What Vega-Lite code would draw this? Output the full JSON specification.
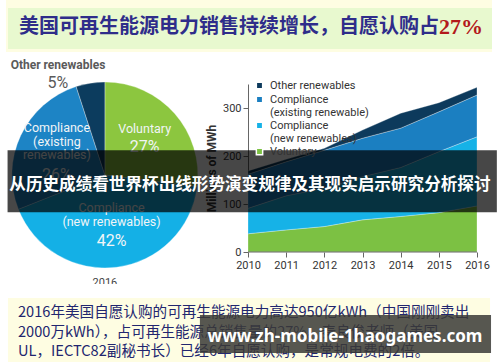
{
  "$schema": "https://vega.github.io/schema/vega-lite/v6.json",
  "background": "#ffffff",
  "padding": {"left": 6, "top": 0, "right": 0, "bottom": 0},
  "bounds": "flush",
  "spacing": 32,
  "config": {"view": {"stroke": null}, "font": "Roboto"},
  "resolve": {"scale": {"color": "independent", "x": "independent", "y": "independent"}},
  "vconcat": [
    {
      "width": 486,
      "height": 52,
      "view": {"fill": "#fefde2", "stroke": null},
      "data": {"values": [
        {"part": "head", "text": "美国可再生能源电力销售持续增长，自愿认购占"},
        {"part": "pct", "text": "27%"}
      ]},
      "layer": [
        {
          "transform": [{"filter": "datum.part === 'head'"}],
          "mark": {"type": "rect", "fill": "#e8f9cf"},
          "encoding": {
            "x": {"datum": 0.0041, "type": "quantitative", "scale": {"domain": [0, 1], "nice": false}, "axis": null},
            "x2": {"datum": 1.0},
            "y": {"datum": 0.154, "type": "quantitative", "scale": {"domain": [0, 1], "nice": false, "reverse": true}, "axis": null},
            "y2": {"datum": 0.942}
          }
        },
        {
          "transform": [{"filter": "datum.part === 'head'"}],
          "mark": {"type": "text", "align": "right", "baseline": "middle", "font": "Noto Sans CJK SC", "fontSize": 20, "fontWeight": "bold", "fill": "#2f2d8a"},
          "encoding": {
            "x": {"datum": 0.891, "type": "quantitative", "scale": {"domain": [0, 1], "nice": false}, "axis": null},
            "y": {"datum": 0.52, "type": "quantitative", "scale": {"domain": [0, 1], "nice": false, "reverse": true}, "axis": null},
            "text": {"field": "text"}
          }
        },
        {
          "transform": [{"filter": "datum.part === 'pct'"}],
          "mark": {"type": "text", "align": "left", "baseline": "middle", "font": "Liberation Serif", "fontSize": 22, "fontWeight": "bold", "fill": "#b3191c"},
          "encoding": {
            "x": {"datum": 0.891, "type": "quantitative", "scale": {"domain": [0, 1], "nice": false}, "axis": null},
            "y": {"datum": 0.52, "type": "quantitative", "scale": {"domain": [0, 1], "nice": false, "reverse": true}, "axis": null},
            "text": {"field": "text"}
          }
        }
      ]
    },
    {
      "width": 491,
      "height": 168,
      "resolve": {"scale": {"color": "independent", "theta": "independent"}},
      "layer": [
        {
          "data": {"name": "pie", "values": [
            {"cat": "Voluntary", "k": 1, "share": 27, "lbl": "Voluntary", "pct": "27%"},
            {"cat": "Compliance (new renewables)", "k": 2, "share": 42, "lbl": "Compliance\n(new renewables)", "pct": "42%"},
            {"cat": "Compliance (existing renewables)", "k": 3, "share": 26, "lbl": "Compliance\n(existing\nrenewables)", "pct": "26%"},
            {"cat": "Other renewables", "k": 4, "share": 5, "lbl": "Other renewables", "pct": "5%"}
          ]},
          "encoding": {
            "theta": {"field": "share", "type": "quantitative", "stack": true},
            "order": {"field": "k", "type": "quantitative"},
            "detail": {"field": "cat", "type": "nominal"},
            "x": {"datum": 2006.25, "type": "quantitative", "scale": {"domain": [2003.659, 2016.524], "nice": false, "zero": false}},
            "y": {"datum": 160.4, "type": "quantitative", "scale": {"domain": [0, 350], "nice": false}}
          },
          "layer": [
            {
              "mark": {"type": "arc", "outerRadius": 93, "stroke": "#ffffff", "strokeWidth": 0.6, "strokeOpacity": 0.5},
              "encoding": {
                "color": {"field": "cat", "type": "nominal", "legend": null,
                  "scale": {"domain": ["Voluntary", "Compliance (new renewables)", "Compliance (existing renewables)", "Other renewables"],
                            "range": ["#8cc63f", "#14b0e6", "#1d84c5", "#0c3c5e"]}}
              }
            },
            {
              "mark": {"type": "text", "radius": 53, "dy": -11, "baseline": "middle", "lineBreak": "\n", "lineHeight": 14, "font": "Liberation Sans Narrow, Roboto", "fontSize": 12.5, "fill": "#f1f5f7"},
              "encoding": {"text": {"condition": {"test": "datum.k === 1", "field": "lbl"}, "value": ""}}
            },
            {
              "mark": {"type": "text", "radius": 53, "dy": 7, "baseline": "middle", "font": "Liberation Sans Narrow, Roboto", "fontSize": 16, "fill": "#f1f5f7"},
              "encoding": {"text": {"condition": {"test": "datum.k === 1", "field": "pct"}, "value": ""}}
            },
            {
              "mark": {"type": "text", "radius": 53, "dy": -20, "baseline": "middle", "lineBreak": "\n", "lineHeight": 14, "font": "Liberation Sans Narrow, Roboto", "fontSize": 12.5, "fill": "#f1f5f7"},
              "encoding": {"text": {"condition": {"test": "datum.k === 2", "field": "lbl"}, "value": ""}}
            },
            {
              "mark": {"type": "text", "radius": 53, "dy": 13, "baseline": "middle", "font": "Liberation Sans Narrow, Roboto", "fontSize": 16, "fill": "#f1f5f7"},
              "encoding": {"text": {"condition": {"test": "datum.k === 2", "field": "pct"}, "value": ""}}
            },
            {
              "mark": {"type": "text", "radius": 53, "dy": -24, "baseline": "middle", "lineBreak": "\n", "lineHeight": 13.5, "font": "Liberation Sans Narrow, Roboto", "fontSize": 12.5, "fill": "#f1f5f7"},
              "encoding": {"text": {"condition": {"test": "datum.k === 3", "field": "lbl"}, "value": ""}}
            },
            {
              "mark": {"type": "text", "radius": 53, "dy": 23, "baseline": "middle", "font": "Liberation Sans Narrow, Roboto", "fontSize": 16, "fill": "#f1f5f7"},
              "encoding": {"text": {"condition": {"test": "datum.k === 3", "field": "pct"}, "value": ""}}
            }
          ]
        },
        {
          "data": {"name": "pie"},
          "transform": [{"filter": "datum.k === 4"}],
          "mark": {"type": "text", "align": "center", "baseline": "middle", "font": "Liberation Sans Narrow, Roboto", "fontSize": 12, "fontWeight": "bold", "fill": "#5a5a5a"},
          "encoding": {
            "x": {"datum": 2005.021, "type": "quantitative", "scale": {"domain": [2003.659, 2016.524], "nice": false, "zero": false}},
            "y": {"datum": 389.6, "type": "quantitative", "scale": {"domain": [0, 350], "nice": false}},
            "text": {"field": "lbl"}
          }
        },
        {
          "data": {"name": "pie"},
          "transform": [{"filter": "datum.k === 4"}],
          "mark": {"type": "text", "align": "center", "baseline": "middle", "font": "Liberation Sans Narrow, Roboto", "fontSize": 16, "fill": "#5a5a5a"},
          "encoding": {
            "x": {"datum": 2005.021, "type": "quantitative", "scale": {"domain": [2003.659, 2016.524], "nice": false, "zero": false}},
            "y": {"datum": 352.1, "type": "quantitative", "scale": {"domain": [0, 350], "nice": false}},
            "text": {"field": "pct"}
          }
        },
        {
          "data": {"values": [{"label": "2016"}]},
          "mark": {"type": "text", "align": "center", "baseline": "middle", "font": "Roboto", "fontSize": 11, "fill": "#444444"},
          "encoding": {
            "x": {"datum": 2006.25, "type": "quantitative", "scale": {"domain": [2003.659, 2016.524], "nice": false, "zero": false}},
            "y": {"datum": -64.6, "type": "quantitative", "scale": {"domain": [0, 350], "nice": false}},
            "text": {"field": "label"}
          }
        },
        {
          "data": {"values": [
            {"year": 2010, "series": "Voluntary", "k": 1, "mwh": 38},
            {"year": 2011, "series": "Voluntary", "k": 1, "mwh": 46},
            {"year": 2012, "series": "Voluntary", "k": 1, "mwh": 53},
            {"year": 2013, "series": "Voluntary", "k": 1, "mwh": 67},
            {"year": 2014, "series": "Voluntary", "k": 1, "mwh": 74},
            {"year": 2015, "series": "Voluntary", "k": 1, "mwh": 82},
            {"year": 2016, "series": "Voluntary", "k": 1, "mwh": 96},
            {"year": 2010, "series": "Compliance|(new renewables)", "k": 2, "mwh": 53},
            {"year": 2011, "series": "Compliance|(new renewables)", "k": 2, "mwh": 71},
            {"year": 2012, "series": "Compliance|(new renewables)", "k": 2, "mwh": 80},
            {"year": 2013, "series": "Compliance|(new renewables)", "k": 2, "mwh": 90},
            {"year": 2014, "series": "Compliance|(new renewables)", "k": 2, "mwh": 102},
            {"year": 2015, "series": "Compliance|(new renewables)", "k": 2, "mwh": 127},
            {"year": 2016, "series": "Compliance|(new renewables)", "k": 2, "mwh": 144},
            {"year": 2010, "series": "Compliance|(existing renewable)", "k": 3, "mwh": 71},
            {"year": 2011, "series": "Compliance|(existing renewable)", "k": 3, "mwh": 71},
            {"year": 2012, "series": "Compliance|(existing renewable)", "k": 3, "mwh": 79},
            {"year": 2013, "series": "Compliance|(existing renewable)", "k": 3, "mwh": 80},
            {"year": 2014, "series": "Compliance|(existing renewable)", "k": 3, "mwh": 82},
            {"year": 2015, "series": "Compliance|(existing renewable)", "k": 3, "mwh": 83},
            {"year": 2016, "series": "Compliance|(existing renewable)", "k": 3, "mwh": 87},
            {"year": 2010, "series": "Other renewables", "k": 4, "mwh": 7},
            {"year": 2011, "series": "Other renewables", "k": 4, "mwh": 5},
            {"year": 2012, "series": "Other renewables", "k": 4, "mwh": 4},
            {"year": 2013, "series": "Other renewables", "k": 4, "mwh": 17},
            {"year": 2014, "series": "Other renewables", "k": 4, "mwh": 31},
            {"year": 2015, "series": "Other renewables", "k": 4, "mwh": 19},
            {"year": 2016, "series": "Other renewables", "k": 4, "mwh": 16}
          ]},
          "mark": {"type": "area", "stroke": "#ffffff", "strokeWidth": 0.6, "strokeOpacity": 0.5},
          "encoding": {
            "x": {"field": "year", "type": "quantitative", "scale": {"domain": [2003.659, 2016.524], "nice": false, "zero": false},
              "axis": {"values": [2010, 2011, 2012, 2013, 2014, 2015, 2016], "format": "d", "title": null, "grid": false, "domain": false,
                "labelFontSize": 11, "labelColor": "#333333", "tickColor": "#666666", "tickSize": 5, "labelFont": "Roboto"}},
            "y": {"field": "mwh", "type": "quantitative", "stack": "zero", "scale": {"domain": [0, 350], "nice": false},
              "axis": {"values": [0, 50, 100, 150, 200, 250, 300, 350], "offset": -242, "title": "Millions of MWh", "titleFontWeight": "bold", "titleFontSize": 12,
                "titleColor": "#333333", "titleFont": "Roboto", "grid": false, "labelFontSize": 11, "labelColor": "#333333",
                "tickColor": "#666666", "domainColor": "#666666", "tickSize": 5, "labelFont": "Roboto"}},
            "color": {"field": "series", "type": "nominal",
              "scale": {"domain": ["Other renewables", "Compliance|(existing renewable)", "Compliance|(new renewables)", "Voluntary"],
                        "range": ["#0d3a5c", "#1b7fc1", "#16b2e7", "#7cc143"]},
              "legend": {"orient": "none", "legendX": 248, "legendY": -4, "title": null, "padding": 0,
                "labelExpr": "split(datum.label, '|')", "symbolType": "square", "symbolSize": 40,
                "labelFontSize": 11, "labelColor": "#333333", "labelFont": "Roboto", "labelOffset": 5, "rowPadding": 1, "labelLimit": 0}},
            "order": {"field": "k", "type": "quantitative"}
          }
        },
        {
          "data": {"values": [{"axis": "x"}]},
          "mark": {"type": "rule", "stroke": "#666666", "strokeWidth": 1},
          "encoding": {
            "x": {"datum": 2010, "type": "quantitative", "scale": {"domain": [2003.659, 2016.524], "nice": false, "zero": false}},
            "x2": {"datum": 2016},
            "y": {"datum": 0, "type": "quantitative", "scale": {"domain": [0, 350], "nice": false}}
          }
        },
        {
          "data": {"values": [{"banner": "从历史成绩看世界杯出线形势演变规律及其现实启示研究分析探讨"}]},
          "mark": {"type": "rect", "fill": "#000000", "opacity": 0.72},
          "encoding": {
            "x": {"datum": 2003.7, "type": "quantitative", "scale": {"domain": [2003.659, 2016.524], "nice": false, "zero": false}},
            "x2": {"datum": 2016.52},
            "y": {"datum": 83, "type": "quantitative", "scale": {"domain": [0, 350], "nice": false}},
            "y2": {"datum": 212}
          }
        },
        {
          "data": {"values": [{"banner": "从历史成绩看世界杯出线形势演变规律及其现实启示研究分析探讨"}]},
          "mark": {"type": "text", "align": "center", "baseline": "middle", "font": "Noto Sans CJK SC", "fontSize": 16.6, "fontWeight": "bold", "fill": "#ffffff"},
          "encoding": {
            "x": {"datum": 2010.05, "type": "quantitative", "scale": {"domain": [2003.659, 2016.524], "nice": false, "zero": false}},
            "y": {"datum": 139.6, "type": "quantitative", "scale": {"domain": [0, 350], "nice": false}},
            "text": {"field": "banner"}
          }
        }
      ]
    },
    {
      "width": 486,
      "height": 78,
      "view": {"fill": "#ffffff", "stroke": null},
      "layer": [
        {
          "data": {"values": [{"box": "note"}]},
          "mark": {"type": "rect", "fill": "#fefde2"},
          "encoding": {
            "x": {"datum": 0.004, "type": "quantitative", "scale": {"domain": [0, 1], "nice": false}, "axis": null},
            "x2": {"datum": 0.996},
            "y": {"datum": 0.239, "type": "quantitative", "scale": {"domain": [-0.472, 3.487], "nice": false, "zero": false, "reverse": true}, "axis": null},
            "y2": {"datum": 3.487}
          }
        },
        {
          "data": {"values": [
            {"line": 1, "text": "2016年美国自愿认购的可再生能源电力高达950亿kWh（中国刚刚卖出"},
            {"line": 2, "text": "2000万kWh），占可再生能源总销售量的27%。秦良俊老师（美国"},
            {"line": 3, "text": "UL，IECTC82副秘书长）已经6年自愿认购，是常规电费的2倍。"}
          ]},
          "mark": {"type": "text", "align": "left", "baseline": "middle", "font": "Noto Sans CJK SC", "fontSize": 14.6, "fill": "#22266f"},
          "encoding": {
            "x": {"datum": 0.0247, "type": "quantitative", "scale": {"domain": [0, 1], "nice": false}, "axis": null},
            "y": {"field": "line", "type": "quantitative", "scale": {"domain": [-0.472, 3.487], "nice": false, "zero": false, "reverse": true}, "axis": null},
            "text": {"field": "text"}
          }
        },
        {
          "data": {"values": [{"site": "www.zh-mobile-1haogames.com"}]},
          "mark": {"type": "rect", "fill": "#3a3a36", "opacity": 0.85},
          "encoding": {
            "x": {"datum": 0.399, "type": "quantitative", "scale": {"domain": [0, 1], "nice": false}, "axis": null},
            "x2": {"datum": 0.998},
            "y": {"datum": 1.102, "type": "quantitative", "scale": {"domain": [-0.472, 3.487], "nice": false, "zero": false, "reverse": true}, "axis": null},
            "y2": {"datum": 3.03}
          }
        },
        {
          "data": {"values": [{"site": "www.zh-mobile-1haogames.com"}]},
          "mark": {"type": "text", "align": "center", "baseline": "middle", "font": "Noto Sans", "fontSize": 17, "fontWeight": "bold", "fill": "#ffffff"},
          "encoding": {
            "x": {"datum": 0.6975, "type": "quantitative", "scale": {"domain": [0, 1], "nice": false}, "axis": null},
            "y": {"datum": 2.218, "type": "quantitative", "scale": {"domain": [-0.472, 3.487], "nice": false, "zero": false, "reverse": true}, "axis": null},
            "text": {"field": "site"}
          }
        }
      ]
    }
  ]
}
